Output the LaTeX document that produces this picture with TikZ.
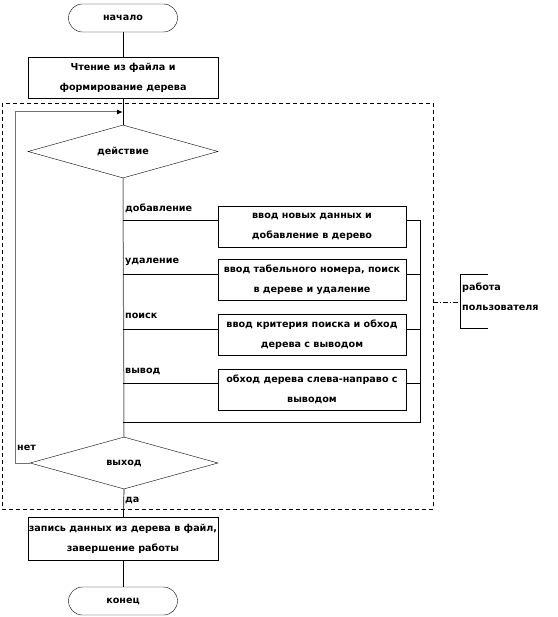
\documentclass[tikz,border=0pt]{standalone}
\usepackage{fontspec}
\setmainfont{DejaVu Sans}
\usetikzlibrary{shapes.geometric,arrows.meta,calc}
\begin{document}
\begin{tikzpicture}[x=1pt,y=-1pt,
  every node/.style={font=\fontsize{9.6}{20}\selectfont\bfseries},
  term/.style={draw,rounded corners=14pt,minimum width=109pt,minimum height=28pt,inner sep=0pt},
  proc/.style={draw,minimum width=190pt,minimum height=41pt,inner sep=0pt,align=center},
  act/.style={draw,minimum width=188pt,minimum height=41pt,inner sep=0pt,align=center},
  dec/.style={draw,diamond,aspect=3.6,minimum width=190pt,minimum height=53pt,inner sep=0pt},
  lbl/.style={anchor=west,inner sep=1pt},
  ln/.style={line width=0.7pt},
  gln/.style={line width=1pt,draw=black!55}]
\useasboundingbox (0,0) rectangle (557,617);
\node[term] (start) at (123,18) {начало};
\node[proc] (read) at (123,77.5) {Чтение из файла и\\формирование дерева};
\node[dec] (d1) at (123,151.5) {действие};
\node[act] (b1) at (312,226.5) {ввод новых данных и\\добавление в дерево};
\node[act] (b2) at (312,280) {ввод табельного номера, поиск\\в дереве и удаление};
\node[act] (b3) at (312,335) {ввод критерия поиска и обход\\дерева с выводом};
\node[act] (b4) at (312,389.5) {обход дерева слева-направо с\\выводом};
\node[dec,minimum width=188pt,minimum height=52pt] (d2) at (124,463) {выход};
\node[proc,minimum height=43pt] (write) at (123,538.5) {запись данных из дерева в файл,\\завершение работы};
\node[term] (stop) at (123,601) {конец};
% junction coordinates
\coordinate (j1) at (123,220);
\coordinate (j2) at (123,274);
\coordinate (j3) at (123,329);
\coordinate (j4) at (123,383);
\coordinate (jb) at (123,422);
\coordinate (rt) at (420,422);
\coordinate (lp) at (15,112);
\coordinate (ar) at (123,112);
% main flow
\draw[ln] (start) -- (read);
\draw[ln] (read) -- (d1);
\draw[gln] (d1.south) -- (d2.north);
\foreach \j/\b in {j1/b1,j2/b2,j3/b3,j4/b4}{
  \draw[ln] (\j) -- (\j -| \b.west);
  \draw[ln] (\j -| \b.east) -- (\j -| rt);
}
\draw[ln] (j1 -| rt) -- (rt) -- (jb);
% labels
\node[lbl] (l1) at (124,208) {добавление};
\node[lbl] (l2) at (124,262) {удаление};
\node[lbl] (l3) at (124,316) {поиск};
\node[lbl] (l4) at (124,371) {вывод};
% loop back
\draw[gln,-{Latex[length=6pt,width=5pt,color=black]}] (d2.west) -- (d2.west -| lp) -- (lp) -- (ar);
\node[lbl] (no) at (16,448) {нет};
\node[lbl] (yes) at (124,500) {да};
\draw[ln] (d2.south) -- (write);
\draw[ln] (write) -- (stop);
% dashed region
\draw[ln,dash pattern=on 4pt off 3pt] (2,103) rectangle (433,509);
% annotation
\coordinate (an1) at (488,274);
\coordinate (an2) at (460,274);
\coordinate (an3) at (460,328);
\coordinate (an4) at (488,328);
\draw[ln] (an1) -- (an2) -- (an3) -- (an4);
\coordinate (dd) at (433,302);
\draw[ln,dash pattern=on 5pt off 2pt on 1pt off 2pt] (dd) -- (dd -| an2);
\node[lbl] (w1) at (461,288) {работа};
\node[lbl] (w2) at (461,308) {пользователя};
\end{tikzpicture}
\end{document}
